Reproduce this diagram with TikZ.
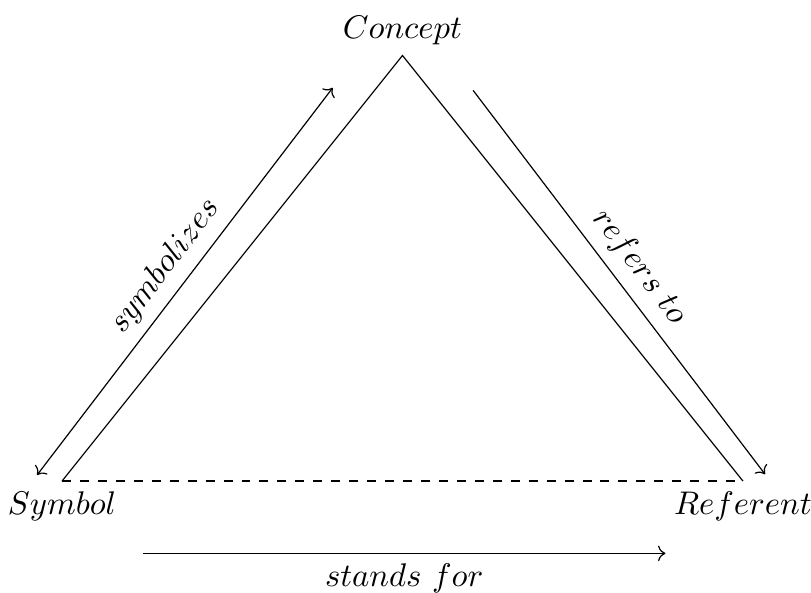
\documentclass[tikz,border=0pt]{standalone}
\usepackage{amsmath, amssymb}
\usetikzlibrary{arrows.meta, positioning, calc}

\begin{document}
\begin{tikzpicture}[font=\fontsize{10.7}{13}\selectfont]
    \useasboundingbox (-0.729,-1.304) rectangle (8.80,5.652);
    % Triangle corners
    \coordinate (sym) at (0,0);
    \coordinate (ref) at (8,0);
    \coordinate (con) at (4,5);
    \node[above] (con_lbl) at (con) {$Concept$};
    \node[below] (sym_lbl) at (sym) {$Symbol$};
    \node[below] (ref_lbl) at (ref) {$Referent$};

    \draw (sym) -- (con) -- (ref);
    \draw[dashed] (sym) -- (ref);

    % Relations
    \coordinate (symb_a) at (-0.294,0.07);
    \coordinate (symb_b) at (3.18,4.62);
    \coordinate (refs_a) at (4.83,4.59);
    \coordinate (refs_b) at (8.26,0.08);
    \coordinate (stan_a) at (0.95,-0.85);
    \coordinate (stan_b) at (7.09,-0.85);

    \draw[<->] (symb_a) -- (symb_b) node[midway, above, sloped] {$symbolizes$};
    \draw[->] (refs_a) -- (refs_b) node[midway, above, sloped] {$refers\ to$};
    \draw[->] (stan_a) -- (stan_b) node[midway, below] {$stands\ for$};
\end{tikzpicture}
\end{document}
